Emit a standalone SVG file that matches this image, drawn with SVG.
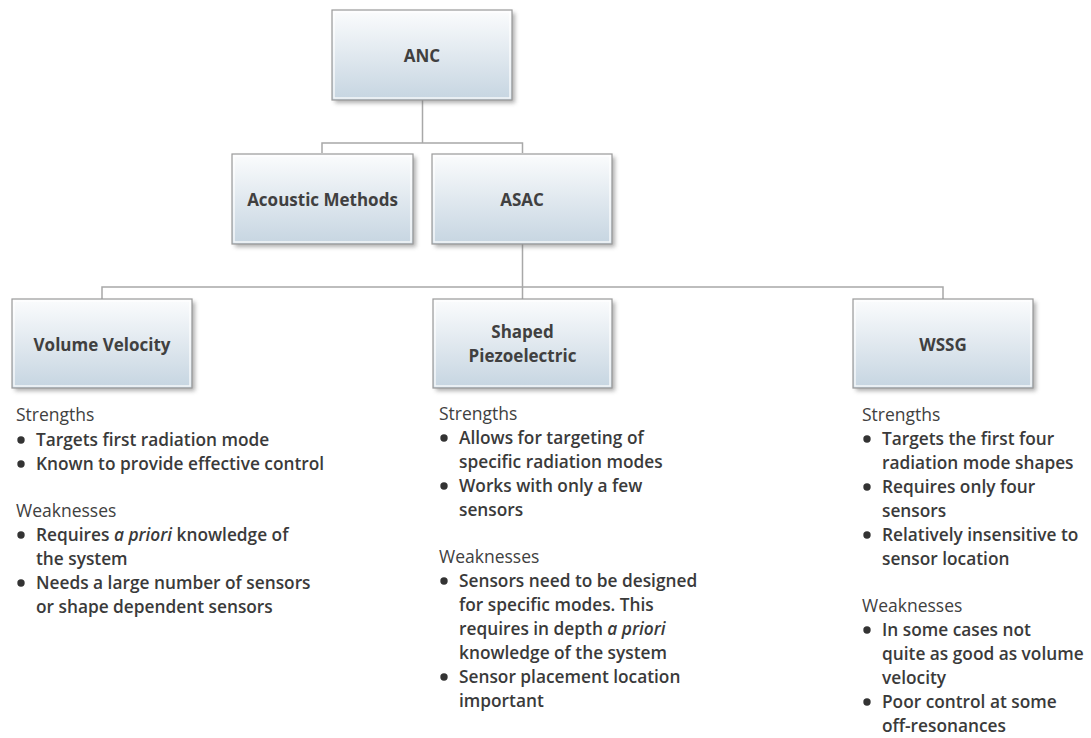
<svg xmlns="http://www.w3.org/2000/svg" width="1091" height="738" viewBox="0 0 1091 738">
<style>
.box{fill:url(#g);stroke:#9a9a9a;stroke-width:1.2}
.hl{fill:none;stroke:#ffffff;stroke-width:1.5;opacity:0.8}
.sh{fill:#6e6e6e;opacity:0.55;filter:url(#blur)}
.t{font-family:"Open Sans","Noto Sans","DejaVu Sans",sans-serif;font-weight:700;font-size:17px;fill:#404040;text-anchor:middle}
.b{font-family:"Open Sans","Noto Sans","DejaVu Sans",sans-serif;font-weight:600;font-size:17.3px;fill:#3a3a3a}
.h{font-family:"Open Sans","Noto Sans","DejaVu Sans",sans-serif;font-weight:500;font-size:17.5px;fill:#404040}
.c{fill:none;stroke:#a8a8a8;stroke-width:1.5}
.dot{fill:#333333}
</style>
<defs>
<linearGradient id="g" x1="0" y1="0" x2="0" y2="1">
<stop offset="0" stop-color="#fbfcfd"/>
<stop offset="1" stop-color="#c6d5e1"/>
</linearGradient>
<filter id="blur" x="-10%" y="-10%" width="120%" height="130%"><feGaussianBlur stdDeviation="2"/></filter>
</defs>

<g id="connectors">
<path class="c" d="M422.5 100 V143 M322 153 V143 H522.5 V153"/>
<path class="c" d="M522.5 244 V287 M102 299 V287 H943 V299 M522.5 287 V299"/>
</g>

<g id="anc">
<rect class="sh" x="335" y="13" width="180" height="90"/>
<rect class="box" x="332" y="10" width="180" height="90"/>
<rect class="hl" x="334" y="12" width="176" height="86"/>
<text class="t" x="422" y="62" font-size="18.5">ANC</text>
</g>

<g id="acoustic">
<rect class="sh" x="235" y="157" width="181" height="90"/>
<rect class="box" x="232" y="154" width="181" height="90"/>
<rect class="hl" x="234" y="156" width="177" height="86"/>
<text class="t" x="322.5" y="206">Acoustic Methods</text>
</g>

<g id="asac">
<rect class="sh" x="435" y="157" width="180" height="90"/>
<rect class="box" x="432" y="154" width="180" height="90"/>
<rect class="hl" x="434" y="156" width="176" height="86"/>
<text class="t" x="522" y="206">ASAC</text>
</g>

<g id="volume">
<rect class="sh" x="15" y="302" width="180" height="89"/>
<rect class="box" x="12" y="299" width="180" height="89"/>
<rect class="hl" x="14" y="301" width="176" height="85"/>
<text class="t" x="102" y="351">Volume Velocity</text>
</g>

<g id="shaped">
<rect class="sh" x="436" y="302" width="179" height="89"/>
<rect class="box" x="433" y="299" width="179" height="89"/>
<rect class="hl" x="435" y="301" width="175" height="85"/>
<text class="t" x="522.5" y="338">Shaped</text>
<text class="t" x="522.5" y="362">Piezoelectric</text>
</g>

<g id="wssg">
<rect class="sh" x="856" y="302" width="180" height="89"/>
<rect class="box" x="853" y="299" width="180" height="89"/>
<rect class="hl" x="855" y="301" width="176" height="85"/>
<text class="t" x="943" y="351">WSSG</text>
</g>

<g id="volume-notes">
<text class="h" x="16" y="421">Strengths</text>
<circle class="dot" cx="21" cy="440" r="3.7"/>
<text class="b" x="36" y="446">Targets first radiation mode</text>
<circle class="dot" cx="21" cy="464" r="3.7"/>
<text class="b" x="36" y="470">Known to provide effective control</text>
<text class="h" x="16" y="517">Weaknesses</text>
<circle class="dot" cx="21" cy="535" r="3.7"/>
<text class="b" x="36" y="541">Requires <tspan font-style="italic">a priori</tspan> knowledge of</text>
<text class="b" x="36" y="565">the system</text>
<circle class="dot" cx="21" cy="583" r="3.7"/>
<text class="b" x="36" y="589">Needs a large number of sensors</text>
<text class="b" x="36" y="613">or shape dependent sensors</text>
</g>

<g id="shaped-notes">
<text class="h" x="439" y="420">Strengths</text>
<circle class="dot" cx="444" cy="438" r="3.7"/>
<text class="b" x="459" y="444">Allows for targeting of</text>
<text class="b" x="459" y="468">specific radiation modes</text>
<circle class="dot" cx="444" cy="486" r="3.7"/>
<text class="b" x="459" y="492">Works with only a few</text>
<text class="b" x="459" y="516">sensors</text>
<text class="h" x="439" y="563">Weaknesses</text>
<circle class="dot" cx="444" cy="581" r="3.7"/>
<text class="b" x="459" y="587">Sensors need to be designed</text>
<text class="b" x="459" y="611">for specific modes. This</text>
<text class="b" x="459" y="635">requires in depth <tspan font-style="italic">a priori</tspan></text>
<text class="b" x="459" y="659">knowledge of the system</text>
<circle class="dot" cx="444" cy="677" r="3.7"/>
<text class="b" x="459" y="683">Sensor placement location</text>
<text class="b" x="459" y="707">important</text>
</g>

<g id="wssg-notes">
<text class="h" x="862" y="421">Strengths</text>
<circle class="dot" cx="867" cy="439" r="3.7"/>
<text class="b" x="882" y="445">Targets the first four</text>
<text class="b" x="882" y="469">radiation mode shapes</text>
<circle class="dot" cx="867" cy="487" r="3.7"/>
<text class="b" x="882" y="493">Requires only four</text>
<text class="b" x="882" y="517">sensors</text>
<circle class="dot" cx="867" cy="535" r="3.7"/>
<text class="b" x="882" y="541">Relatively insensitive to</text>
<text class="b" x="882" y="565">sensor location</text>
<text class="h" x="862" y="612">Weaknesses</text>
<circle class="dot" cx="867" cy="630" r="3.7"/>
<text class="b" x="882" y="636">In some cases not</text>
<text class="b" x="882" y="660">quite as good as volume</text>
<text class="b" x="882" y="684">velocity</text>
<circle class="dot" cx="867" cy="702" r="3.7"/>
<text class="b" x="882" y="708">Poor control at some</text>
<text class="b" x="882" y="732">off-resonances</text>
</g>
</svg>
